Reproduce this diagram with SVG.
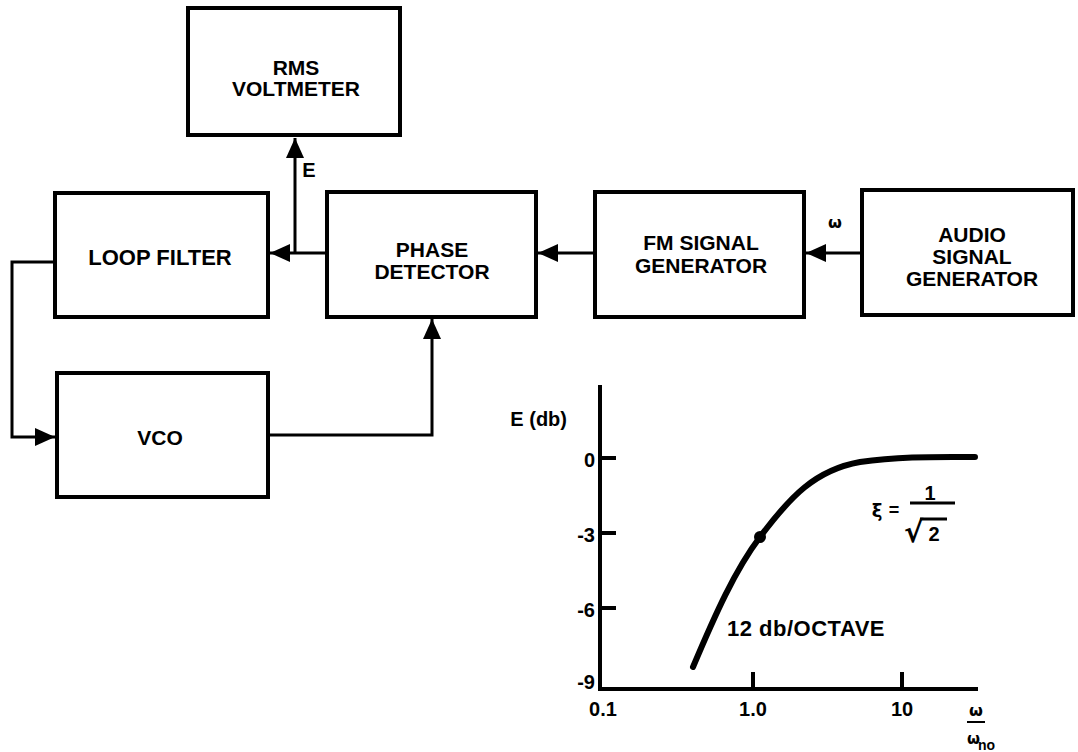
<svg xmlns="http://www.w3.org/2000/svg" width="1078" height="752" viewBox="0 0 1078 752">
<style>
.box{fill:#fff;stroke:#000;stroke-width:4}
.lbl{font-family:"Liberation Sans",Arial,sans-serif;font-weight:bold;font-size:21px;fill:#000;text-anchor:middle}
.con{fill:none;stroke:#000;stroke-width:3}
.ax{fill:none;stroke:#000;stroke-width:4}
.tk{font-family:"Liberation Sans",Arial,sans-serif;font-weight:bold;font-size:20px;fill:#000}
.gr{font-family:"DejaVu Sans",sans-serif;font-weight:bold;fill:#000}
</style>
<defs>
<marker id="ah" markerUnits="userSpaceOnUse" markerWidth="22" markerHeight="18" refX="20" refY="9" orient="auto">
<path d="M0,0 L20,9 L0,18 Z" fill="#000"/>
</marker>
</defs>
<rect width="1078" height="752" fill="#fff"/>

<g id="connectors">
<path class="con" d="M295,253 V138" marker-end="url(#ah)"/>
<path class="con" d="M327,253 H270" marker-end="url(#ah)"/>
<path class="con" d="M595,253 H538" marker-end="url(#ah)"/>
<path class="con" d="M862,253 H806" marker-end="url(#ah)"/>
<path class="con" d="M55,262 H12 V437 H55" marker-end="url(#ah)"/>
<path class="con" d="M268,435 H432 V319" marker-end="url(#ah)"/>
<text class="lbl" x="309" y="177" style="font-size:20px">E</text>
<text class="gr" x="835" y="228" style="font-size:16px;text-anchor:middle">ω</text>
</g>

<g id="rms">
<rect class="box" x="188" y="8" width="212" height="127"/>
<text class="lbl" x="296" y="75">RMS</text>
<text class="lbl" x="296" y="96">VOLTMETER</text>
</g>
<g id="loopfilter">
<rect class="box" x="55" y="193" width="213" height="124"/>
<text class="lbl" x="160" y="265" style="font-size:22px">LOOP FILTER</text>
</g>
<g id="phasedetector">
<rect class="box" x="327" y="192" width="209" height="125"/>
<text class="lbl" x="432" y="257">PHASE</text>
<text class="lbl" x="432" y="279">DETECTOR</text>
</g>
<g id="fmgen">
<rect class="box" x="595" y="192" width="209" height="125"/>
<text class="lbl" x="701" y="250">FM SIGNAL</text>
<text class="lbl" x="701" y="273">GENERATOR</text>
</g>
<g id="audiogen">
<rect class="box" x="862" y="190" width="211" height="125"/>
<text class="lbl" x="972" y="242">AUDIO</text>
<text class="lbl" x="972" y="264">SIGNAL</text>
<text class="lbl" x="972" y="286">GENERATOR</text>
</g>
<g id="vco">
<rect class="box" x="57" y="373" width="211" height="124"/>
<text class="lbl" x="160" y="445">VCO</text>
</g>

<g id="chart">
<path class="ax" d="M600,385 V689 H978"/>
<path class="ax" d="M600,458 H616 M600,533 H616 M600,608 H616 M753,689 V672 M902,689 V672"/>
<text class="tk" x="567" y="426" text-anchor="end">E (db)</text>
<text class="tk" x="595" y="467" text-anchor="end">0</text>
<text class="tk" x="595" y="542" text-anchor="end">-3</text>
<text class="tk" x="595" y="617" text-anchor="end">-6</text>
<text class="tk" x="595" y="689" text-anchor="end">-9</text>
<text class="tk" x="603" y="716" text-anchor="middle">0.1</text>
<text class="tk" x="753" y="716" text-anchor="middle">1.0</text>
<text class="tk" x="902" y="716" text-anchor="middle">10</text>
<path d="M693,667 C715,615 735,570 760,537 C790,497 815,470 860,462 C900,456 940,457 975,457" fill="none" stroke="#000" stroke-width="6" stroke-linecap="round"/>
<circle cx="760" cy="537" r="6" fill="#000"/>
<text class="tk" x="727" y="636" style="font-size:22px;letter-spacing:0.5px">12 db/OCTAVE</text>
<text class="gr" x="877" y="517" text-anchor="middle" style="font-size:18px">ξ</text>
<text class="tk" x="894" y="516" text-anchor="middle" style="font-size:18px">=</text>
<line x1="910" y1="503" x2="955" y2="503" stroke="#000" stroke-width="3"/>
<text class="tk" x="930" y="500" text-anchor="middle">1</text>
<text class="gr" x="904" y="542" style="font-size:29px">√</text>
<line x1="920" y1="519" x2="947" y2="519" stroke="#000" stroke-width="3"/>
<text class="tk" x="934" y="541" text-anchor="middle">2</text>
<text class="gr" x="976" y="716" style="font-size:16px;text-anchor:middle">ω</text>
<line x1="967" y1="722" x2="985" y2="722" stroke="#000" stroke-width="2"/>
<text class="gr" x="967" y="744" style="font-size:15px">ω</text>
<text x="978" y="750" style="font-family:'Liberation Sans',sans-serif;font-weight:bold;font-size:14px">no</text>
</g>
</svg>
